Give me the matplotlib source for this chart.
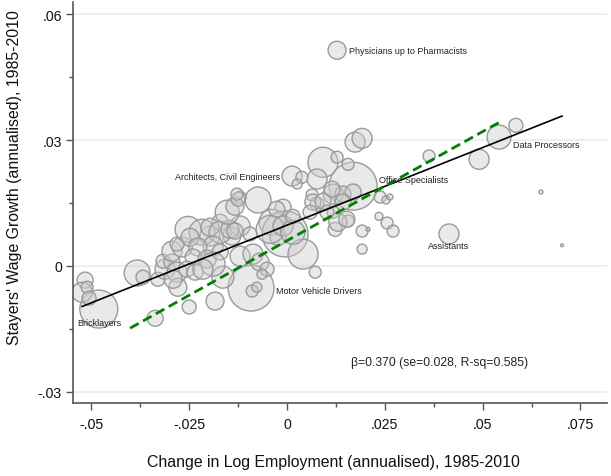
import numpy as np
import matplotlib
matplotlib.use("Agg")
import matplotlib.pyplot as plt
from matplotlib import font_manager

# occupations: first seven are the labelled ones
labels = ["Physicians up to Pharmacists", "Data Processors", "Office Specialists",
          "Architects, Civil Engineers", "Motor Vehicle Drivers", "Bricklayers", "Assistants"]

emp_change = [0.0128, 0.0542, 0.0169, 0.0013, -0.0092, -0.0481, 0.0414,
              0.0174, 0.0192, 0.0585, 0.0491, 0.0363, 0.0092, 0.0128, 0.0156, 0.0077,
              0.0118, 0.0143, 0.0169, 0.0064, 0.0077, 0.0238, 0.0253, 0.0263, 0.0038,
              0.0118, 0.0156, 0.0123, 0.0192, 0.0207, 0.0235, 0.0256, 0.0271, 0.0192,
              0.0072, 0.0143, 0.0649, 0.0703, 0.0026, 0.0115, 0.0066, 0.0092,
              -0.0074, -0.0120, -0.0010, -0.0038, -0.0005, -0.0023, 0.0041, -0.0120,
              -0.0141, -0.0095, -0.0171, -0.0197, -0.0120, -0.0087, -0.0069, -0.0051,
              -0.0064, -0.0089, -0.0077, -0.0164, -0.0184, -0.0250, -0.0337,
              -0.0516, -0.0524, -0.0511, -0.0506, -0.0383, -0.0368, -0.0330, -0.0312,
              -0.0317, -0.0294, -0.0294, -0.0268, -0.0281, -0.0253, -0.0217, -0.0248,
              -0.0197, -0.0171, -0.0146, -0.0133, -0.0189, -0.0228, -0.0240, -0.0204,
              -0.0171, -0.0153, -0.0133, -0.0125, -0.0128, -0.0281, -0.0256, -0.0235,
              -0.0189, -0.0215, -0.0279, -0.0291, -0.0043, -0.0010, 0.0015, -0.0026,
              0.0015, 0.0102, 0.0130, 0.0153, 0.0059]

wage_growth = [0.0514, 0.0307, 0.0190, 0.0214, -0.0053, -0.0103, 0.0076,
               0.0295, 0.0304, 0.0335, 0.0254, 0.0262, 0.0247, 0.0259, 0.0242, 0.0207,
               0.0171, 0.0171, 0.0176, 0.0169, 0.0147, 0.0164, 0.0157, 0.0164, 0.0211,
               0.0128, 0.0107, 0.0087, 0.0083, 0.0087, 0.0118, 0.0102, 0.0083, 0.0040,
               -0.0015, 0.0152, 0.0176, 0.0049, 0.0195, 0.0183, 0.0152, 0.0154,
               0.0157, 0.0164, 0.0140, 0.0104, 0.0076, 0.0068, 0.0028, 0.0095,
               0.0071, 0.0076, 0.0104, 0.0071, 0.0023, 0.0028, 0.0009, -0.0008,
               -0.0020, -0.0060, -0.0051, -0.0027, -0.0084, -0.0098, -0.0125,
               -0.0034, -0.0063, -0.0051, -0.0077, -0.0017, -0.0027, -0.0032, -0.0008,
               0.0011, 0.0009, 0.0035, 0.0045, 0.0052, 0.0087, 0.0080, 0.0068,
               0.0092, 0.0080, 0.0087, 0.0083, 0.0047, 0.0045, 0.0021, 0.0016,
               0.0033, 0.0128, 0.0142, 0.0159, 0.0171, -0.0015, -0.0008, -0.0015,
               0.0004, -0.0008, -0.0051, -0.0032, 0.0087, 0.0095, 0.0080, 0.0135,
               0.0118, 0.0128, 0.0104, 0.0111, 0.0128]

emp_weight = [81, 144, 576, 100, 529, 361, 100,
              100, 100, 49, 100, 36, 225, 36, 36, 100,
              100, 64, 64, 36, 49, 36, 16, 9, 36,
              36, 36, 49, 36, 4, 16, 36, 36, 25,
              36, 64, 4, 2, 25, 64, 64, 64,
              169, 36, 64, 169, 529, 64, 225, 100,
              81, 49, 64, 100, 100, 100, 81, 49,
              25, 36, 25, 121, 81, 49, 64,
              64, 100, 36, 49, 169, 49, 49, 100,
              49, 64, 100, 100, 49, 169, 169, 81,
              81, 121, 81, 64, 100, 81, 64, 81,
              64, 144, 81, 49, 36, 100, 64, 64,
              144, 100, 81, 81, 196, 100, 144, 64,
              49, 49, 81, 64, 49]

# weighted fit (black) and second fit (green dashed)
beta, alpha = 0.370, 0.0097
beta2, alpha2 = 0.52, 0.0060
x2_range = [-0.0401, 0.0544]

xticks = [-0.05, -0.025, 0, 0.025, 0.05, 0.075]
xtick_labels = ["-.05", "-.025", "0", ".025", ".05", ".075"]
yticks = [-0.03, 0, 0.03, 0.06]
ytick_labels = ["-.03", "0", ".03", ".06"]

names = {f.name for f in font_manager.fontManager.ttflist}
if "Liberation Sans Narrow" in names:
    fam = ["Liberation Sans Narrow", "DejaVu Sans"]
    k = 1.0
else:
    fam = ["Liberation Sans", "DejaVu Sans"]
    k = 0.85
plt.rcParams["font.family"] = fam

x = np.array(emp_change)
y = np.array(wage_growth)
w = np.array(emp_weight)

fig = plt.figure(figsize=(6.11, 4.77), dpi=100)
ax = fig.add_axes([0.1195, 0.153, 0.874, 0.8407])
ax.set_xlim(-0.0547, 0.0818)
ax.set_ylim(-0.0327, 0.0629)

for yt in yticks:
    ax.axhline(yt, color="#e6edf0", lw=1.2, zorder=0)

ax.scatter(x, y, s=w * 2.07, facecolor=(0.80, 0.80, 0.80, 0.42),
           edgecolor="#9a9a9a", linewidth=1.0, zorder=2)

xf = np.array([x.min(), x.max()])
ax.plot(xf, alpha + beta * xf, color="black", lw=1.2, zorder=3)
xg = np.array(x2_range)
ax.plot(xg, alpha2 + beta2 * xg, color="#008000", lw=2.0,
        linestyle=(0, (3.5, 1.8)), zorder=4)

# label placement (offsets in points)
offs = [(8.6, 0, "left"), (9.9, -5.3, "left"), (18.7, 4.8, "left"),
        (-8.6, 0, "right"), (18, -1.4, "left"), (0.4, -10, "center"), (0, -8, "center")]
for i, name in enumerate(labels):
    dx, dy, ha = offs[i]
    ax.annotate(name, (x[i], y[i]), xytext=(dx, dy), textcoords="offset points",
                ha=ha, va="center", fontsize=7.6 * k, color="#222222", zorder=5)

ax.text(0.0391, -0.0230, "\u03b2=0.370 (se=0.028, R-sq=0.585)", ha="center",
        va="center", fontsize=10.3 * k, color="#222222")

for sp in ["top", "right"]:
    ax.spines[sp].set_visible(False)
for sp in ["left", "bottom"]:
    ax.spines[sp].set_color("#555555")
    ax.spines[sp].set_linewidth(1.2)

ax.set_xticks(xticks)
ax.set_xticklabels(xtick_labels)
ax.set_xticks([-0.0375, -0.0125, 0.0125, 0.0375, 0.0625], minor=True)
ax.set_yticks(yticks)
ax.set_yticklabels(ytick_labels)
ax.set_yticks([-0.015, 0.015, 0.045], minor=True)
ax.tick_params(which="major", length=5, width=1.0, color="#555555",
               labelsize=12 * k, pad=3, labelcolor="#111111")
ax.tick_params(axis="x", which="major", pad=5)
ax.tick_params(which="minor", length=3, width=1.0, color="#555555")

fig.text(0.545, 1 - 462.7 / 477, "Change in Log Employment (annualised), 1985-2010",
         ha="center", va="center", fontsize=13.5 * k, color="#111111")
fig.text(15 / 611, 1 - 178 / 477, "Stayers' Wage Growth (annualised), 1985-2010",
         ha="center", va="center", rotation=90, fontsize=13.5 * k, color="#111111")

fig.savefig("out.png", dpi=100)
